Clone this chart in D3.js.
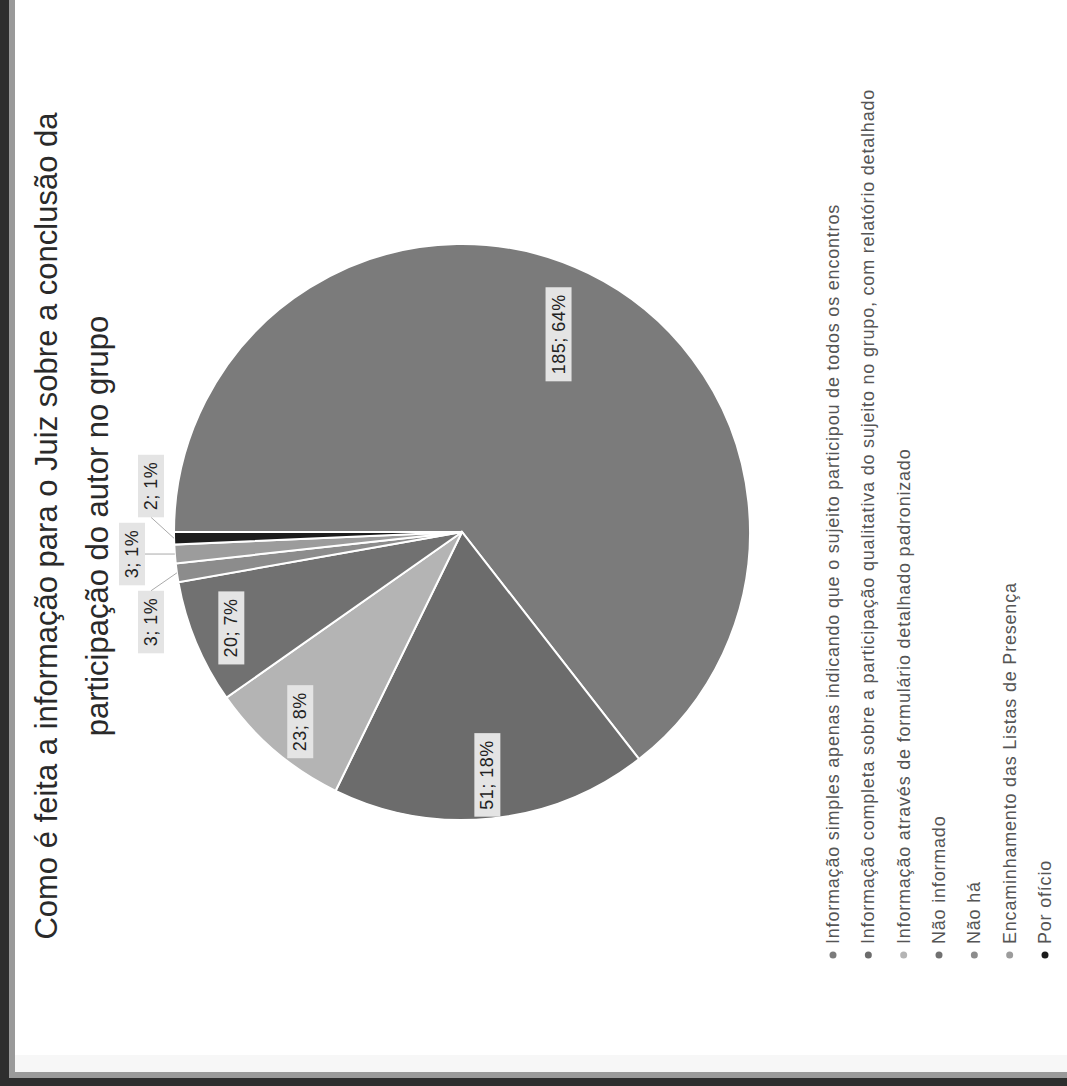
<!DOCTYPE html>
<html><head><meta charset="utf-8">
<script src="https://cdn.jsdelivr.net/npm/d3@7"></script>
<style>html,body{margin:0;padding:0;background:#fff;} svg{display:block;font-family:Arial,"Liberation Sans",sans-serif;}</style>
</head><body>
<svg id="c" width="1067" height="1086"></svg>
<script>
const titleLines = ["Como é feita a informação para o Juiz sobre a conclusão da", "participação do autor no grupo"];
const categories = [
  "Informação simples apenas indicando que o sujeito participou de todos os encontros",
  "Informação completa sobre a participação qualitativa do sujeito no grupo, com relatório detalhado",
  "Informação através de formulário detalhado padronizado",
  "Não informado",
  "Não há",
  "Encaminhamento das Listas de Presença",
  "Por ofício"
];
const values = [185, 51, 23, 20, 3, 3, 2];
const palette = ["#7b7b7b", "#6c6c6c", "#b4b4b4", "#717171", "#8c8c8c", "#9c9c9c", "#1c1c1c"];

const W = 1067, H = 1086;
const svg = d3.select("#c");
svg.append("rect").attr("width", W).attr("height", H).attr("fill", "#fff");

// photo frame
svg.append("rect").attr("x", 0).attr("y", 1055).attr("width", W).attr("height", 17).attr("fill", "#f7f7f7");
svg.append("rect").attr("x", 0).attr("y", 1072).attr("width", W).attr("height", 6).attr("fill", "#9a9a9a");
svg.append("rect").attr("x", 0).attr("y", 1078).attr("width", W).attr("height", 8).attr("fill", "#2e2e2e");
svg.append("rect").attr("x", 9).attr("y", 0).attr("width", 6).attr("height", 1078).attr("fill", "#9a9a9a");
svg.append("rect").attr("x", 0).attr("y", 0).attr("width", 9).attr("height", H).attr("fill", "#2e2e2e");

// rotated chart: local x -> screen up, local y -> screen right
const g = svg.append("g").attr("transform", `translate(0,${H}) rotate(-90)`);

const cx = 554, cy = 462, R = 288;
const total = d3.sum(values);
const color = d3.scaleOrdinal().domain(categories).range(palette);

// title
g.append("g").selectAll("text").data(titleLines).join("text")
  .attr("x", 560).attr("y", (d, i) => 57 + i * 51)
  .attr("text-anchor", "middle")
  .attr("font-size", 31).attr("fill", "#2a2a2a")
  .text(d => d);

const pie = d3.pie().sort(null).value(d => d.v);
const data = values.map((v, i) => ({ v, name: categories[i] }));
const arcs = pie(data);
const arc = d3.arc().innerRadius(0).outerRadius(R);

const pg = g.append("g").attr("transform", `translate(${cx},${cy})`);
pg.selectAll("path").data(arcs).join("path")
  .attr("d", arc)
  .attr("fill", d => color(d.data.name))
  .attr("stroke", "#fff").attr("stroke-width", 2);

const fmt = d => `${d.data.v}; ${Math.round(d.data.v / total * 100)}%`;

function labelBox(parent, x, y, txt) {
  const lg = parent.append("g");
  const t = lg.append("text").attr("x", x).attr("y", y)
    .attr("text-anchor", "middle").attr("dominant-baseline", "central")
    .attr("font-size", 18).attr("letter-spacing", 0.5).attr("fill", "#222").text(txt);
  const b = t.node().getBBox();
  lg.insert("rect", "text")
    .attr("x", b.x - 7).attr("y", b.y - 3)
    .attr("width", b.width + 14).attr("height", b.height + 6)
    .attr("fill", "#e4e4e4");
  return { x0: b.x - 7, x1: b.x + b.width + 7, y0: b.y - 3, y1: b.y + b.height + 3 };
}

const inside = arcs.filter(d => d.data.v / total >= 0.05);
const outside = arcs.filter(d => d.data.v / total < 0.05);

inside.forEach(d => {
  const frac = d.data.v / total;
  const k = 0.88 - 0.18 * frac;
  const a = (d.startAngle + d.endAngle) / 2;
  labelBox(pg, Math.sin(a) * R * k, -Math.cos(a) * R * k, fmt(d));
});

// outside labels spread above the small slices
const n = outside.length;
const midA = (outside[Math.floor(n / 2)].startAngle + outside[Math.floor(n / 2)].endAngle) / 2;
const baseX = Math.sin(midA) * R;
outside.forEach((d, j) => {
  const a = (d.startAngle + d.endAngle) / 2;
  const ax = Math.sin(a) * R, ay = -Math.cos(a) * R;
  const lx = baseX + (j - (n - 1) / 2) * 68;
  const ly = -R - 23 - (j === Math.floor(n / 2) ? 19 : 0);
  const b = labelBox(pg, lx, ly, fmt(d));
  let ex, ey;
  if (ax >= b.x0 && ax <= b.x1) { ex = ax; ey = b.y1; }
  else { ex = ax < b.x0 ? b.x0 : b.x1; ey = (b.y0 + b.y1) / 2; }
  pg.insert("line", "g").attr("x1", ax).attr("y1", ay).attr("x2", ex).attr("y2", ey)
    .attr("stroke", "#aaa").attr("stroke-width", 1);
});

// legend
const lgd = g.append("g");
const ly = d3.scalePoint().domain(categories).range([833, 1045]);
categories.forEach(c => {
  lgd.append("circle").attr("cx", 131).attr("cy", ly(c)).attr("r", 3.5).attr("fill", color(c));
  lgd.append("text").attr("x", 142).attr("y", ly(c)).attr("dominant-baseline", "central")
    .attr("font-size", 18).attr("letter-spacing", 0.8).attr("fill", "#555").text(c);
});
</script>
</body></html>
